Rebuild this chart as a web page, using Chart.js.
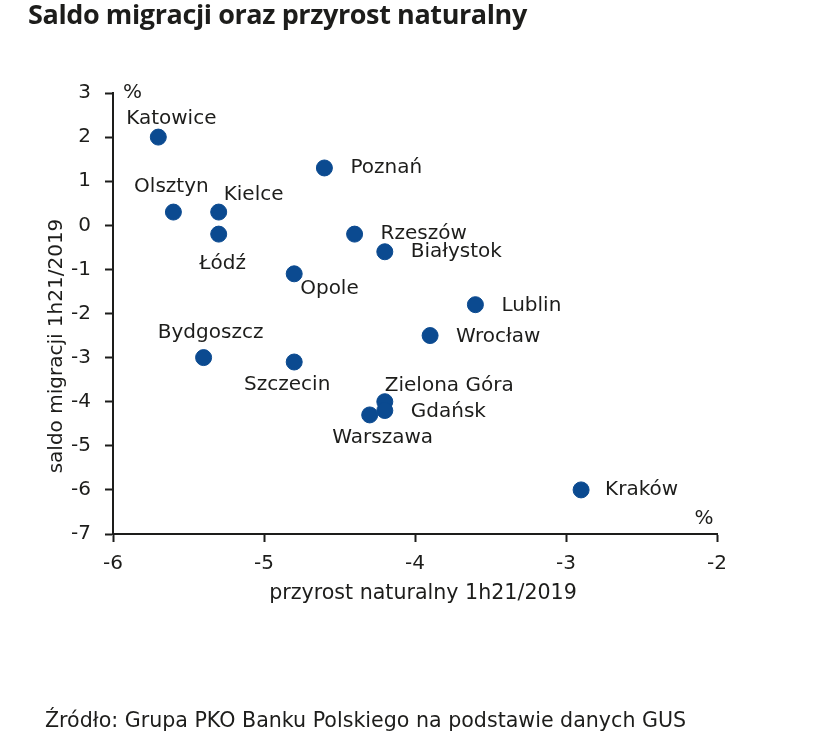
<!DOCTYPE html>
<html>
<head>
<meta charset="utf-8">
<script src="https://cdn.jsdelivr.net/npm/chart.js@4"></script>
<style>
  html, body { margin: 0; padding: 0; background: #ffffff; }
  body { width: 821px; height: 743px; position: relative; overflow: hidden; font-family: "DejaVu Sans", sans-serif; color: #1d1d1b; }
  #title { position: absolute; left: 28px; top: 0px; font-family: "Open Sans", sans-serif; font-size: 27px; line-height: 27px; font-weight: 700; letter-spacing: -0.4px; white-space: nowrap; }
  #source { position: absolute; left: 45px; top: 708px; font-size: 20.6px; line-height: 24px; white-space: nowrap; }
  #wrap { position: absolute; left: 0; top: 0; width: 821px; height: 743px; }
</style>
</head>
<body>
<div id="wrap"><canvas id="c"></canvas></div>
<div id="title">Saldo migracji oraz przyrost naturalny</div>
<div id="source">Źródło: Grupa PKO Banku Polskiego na podstawie danych GUS</div>
<script>
// ---- data ----
const cities = ["Katowice", "Poznań", "Olsztyn", "Kielce", "Łódź", "Rzeszów", "Białystok", "Opole",
                "Lublin", "Wrocław", "Bydgoszcz", "Szczecin", "Zielona Góra", "Gdańsk", "Warszawa", "Kraków"];
const naturalGrowth = [-5.7, -4.6, -5.6, -5.3, -5.3, -4.4, -4.2, -4.8, -3.6, -3.9, -5.4, -4.8, -4.2, -4.2, -4.3, -2.9];
const netMigration  = [ 2.0,  1.3,  0.3,  0.3, -0.2, -0.2, -0.6, -1.1, -1.8, -2.5, -3.0, -3.1, -4.0, -4.2, -4.3, -6.0];
const xTickValues = [-6, -5, -4, -3, -2];
const yTickValues = [3, 2, 1, 0, -1, -2, -3, -4, -5, -6, -7];
const xTitle = "przyrost naturalny 1h21/2019";
const yTitle = "saldo migracji 1h21/2019";
const unitLabel = "%";

// ---- label placement (style only) ----
const labelStyle = [
  ["center", 13, -18], ["left", 26, 0], ["center", -2, -25], ["left", 5, -17],
  ["center", 4, 30], ["left", 26, 0], ["left", 26, 0], ["left", 6, 15],
  ["left", 26, 1], ["left", 26, 1], ["center", 7, -25], ["center", -7, 23],
  ["left", 0, -16], ["left", 26, 1], ["center", 13, 23], ["left", 24, 0]
];

const FONT = '"DejaVu Sans", sans-serif';
const TEXT = '#1d1d1b';
const DOT = '#0b4a90';

const pointLabels = {
  id: 'pointLabels',
  afterDatasetsDraw(chart) {
    const ctx = chart.ctx;
    const meta = chart.getDatasetMeta(0);
    ctx.save();
    ctx.font = '20px ' + FONT;
    ctx.fillStyle = TEXT;
    ctx.textBaseline = 'middle';
    meta.data.forEach((pt, i) => {
      const [align, dx, dy] = labelStyle[i];
      ctx.textAlign = align;
      ctx.fillText(cities[i], pt.x + dx, pt.y + dy);
    });
    const a = chart.chartArea;
    // unit labels
    ctx.textAlign = 'left';
    ctx.fillText(unitLabel, a.left + 10, a.top);
    ctx.textAlign = 'center';
    ctx.fillText(unitLabel, a.right - 13, a.bottom - 15);
    // x axis title
    ctx.font = '20.6px ' + FONT;
    ctx.fillText(xTitle, (a.left + a.right) / 2 + 8, a.bottom + 60);
    // y axis title (rotated)
    ctx.font = '20px ' + FONT;
    ctx.translate(57, 346);
    ctx.rotate(-Math.PI / 2);
    ctx.textAlign = 'center';
    ctx.fillText(yTitle, 0, 0);
    ctx.restore();
  }
};

new Chart(document.getElementById('c'), {
  type: 'scatter',
  data: {
    datasets: [{
      data: naturalGrowth.map((x, i) => ({ x: x, y: netMigration[i] })),
      backgroundColor: DOT,
      borderColor: DOT,
      pointRadius: 8,
      pointHoverRadius: 8
    }]
  },
  options: {
    responsive: true,
    maintainAspectRatio: false,
    animation: false,
    layout: { padding: { left: 0, top: 93, right: 104, bottom: 0 } },
    plugins: { legend: { display: false }, tooltip: { enabled: false } },
    scales: {
      x: {
        type: 'linear',
        min: -6, max: -2,
        afterBuildTicks: (s) => { s.ticks = xTickValues.map(v => ({ value: v })); },
        afterFit: (s) => { s.height = 209; },
        border: { display: true, color: TEXT, width: 2 },
        grid: { display: true, drawOnChartArea: false, drawTicks: true, tickLength: 8, tickWidth: 2, tickColor: TEXT },
        ticks: { color: TEXT, font: { family: FONT, size: 20 }, padding: 10, maxRotation: 0 },
        title: { display: false }
      },
      y: {
        type: 'linear',
        min: -7, max: 3,
        afterBuildTicks: (s) => { s.ticks = yTickValues.map(v => ({ value: v })); },
        afterFit: (s) => { s.width = 113; },
        border: { display: true, color: TEXT, width: 2 },
        grid: { display: true, drawOnChartArea: false, drawTicks: true, tickLength: 8, tickWidth: 2, tickColor: TEXT },
        ticks: { color: TEXT, font: { family: FONT, size: 20 }, padding: 14 },
        title: { display: false }
      }
    }
  },
  plugins: [pointLabels]
});
</script>
</body>
</html>
